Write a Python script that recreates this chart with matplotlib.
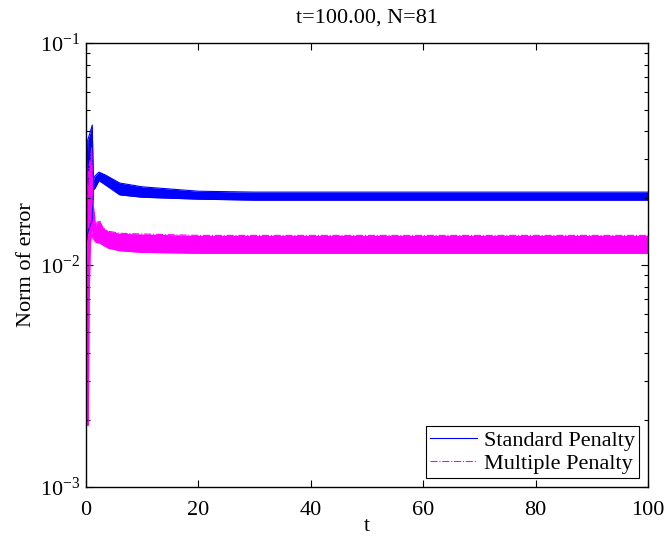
import numpy as np
import matplotlib
matplotlib.use("Agg")
import matplotlib.pyplot as plt

plt.rcParams['font.family'] = ['Liberation Serif', 'DejaVu Serif']
plt.rcParams['mathtext.fontset'] = 'custom'
plt.rcParams['mathtext.rm'] = 'Liberation Serif'
plt.rcParams['mathtext.it'] = 'Liberation Serif:italic'

# envelopes of the (densely oscillating) error norms
t_std = [0, 0.3, 0.7, 1.1, 1.3, 1.6, 2.3, 3.5, 6, 10, 20, 30, 100]
std_hi = [0.0123, 0.0366, 0.0393, 0.0427, 0.0242, 0.0252, 0.0262, 0.0254, 0.0234, 0.0225, 0.0215, 0.0213, 0.0213]
std_lo = [0.0123, 0.0140, 0.0150, 0.0160, 0.0218, 0.0222, 0.0240, 0.0229, 0.0207, 0.0202, 0.0198, 0.0196, 0.0196]

t_mul = [0, 0.15, 0.4, 0.55, 0.75, 1.0, 1.2, 1.45, 1.7, 2.0, 2.4, 3.0, 4.0, 6.0, 10, 20, 100]
mul_hi = [0.0019, 0.0196, 0.0254, 0.0280, 0.0300, 0.0337, 0.0196, 0.0173, 0.0151, 0.0156, 0.0159, 0.0147, 0.0142, 0.0139, 0.0138, 0.0136, 0.0136]
mul_lo = [0.0019, 0.0019, 0.0019, 0.0070, 0.0123, 0.0144, 0.0132, 0.0130, 0.0127, 0.0126, 0.0126, 0.0123, 0.0119, 0.0116, 0.0114, 0.0113, 0.0113]

fig = plt.figure(figsize=(6.67, 5.4), dpi=100)
ax = fig.add_axes([0.129, 0.098, 0.8425, 0.8224])

blue = "#0000ff"
magenta = "#ff00ff"

ax.fill_between(t_std, std_lo, std_hi, color=blue, lw=0)
ax.plot(t_std, std_lo, color=blue, lw=0.8)
ax.plot(t_std, std_hi, color=blue, lw=0.8, label="Standard Penalty")

ax.fill_between(t_mul, mul_lo, mul_hi, color=magenta, lw=0)
ax.plot(t_mul, mul_lo, color=magenta, lw=0.8)
ax.plot(t_mul, mul_hi, color=magenta, lw=0.8, ls="-.", label="Multiple Penalty")

ax.set_yscale("log")
ax.set_xlim(0, 100)
ax.set_ylim(1e-3, 1e-1)
ax.set_xticks([0, 20, 40, 60, 80, 100])
ax.tick_params(which="both", direction="in", top=True, right=True, labelsize=16, width=0.8)
ax.tick_params(which="major", length=5)
ax.tick_params(which="minor", length=3)
ax.tick_params(axis="x", which="major", pad=10)
ax.tick_params(axis="y", which="major", pad=4)
for s in ax.spines.values():
    s.set_linewidth(1.0)

ax.set_xlabel("t", fontsize=16, labelpad=-2)
ax.set_ylabel("Norm of error", fontsize=16, labelpad=3)
ax.set_title("t=100.00, N=81", fontsize=16, pad=15)

leg = ax.legend(loc="lower right", fontsize=16, fancybox=False, framealpha=1,
                edgecolor="black", borderaxespad=0.4, handlelength=2.1,
                handletextpad=0.3, labelspacing=0.1, borderpad=0.2)
leg.get_frame().set_linewidth(0.8)

fig.savefig("out.png", dpi=100)
